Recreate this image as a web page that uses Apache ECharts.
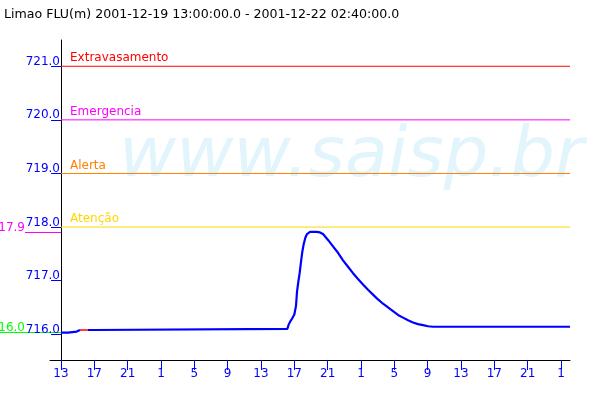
<!DOCTYPE html>
<html>
<head>
<meta charset="utf-8">
<script src="https://cdn.jsdelivr.net/npm/echarts@6/dist/echarts.min.js"></script>
<style>html,body{margin:0;padding:0;background:#fff}#c{width:600px;height:400px}</style>
</head>
<body>
<div id="c"></div>
<script>
// ---- data ----
const chartTitle = 'Limao FLU(m) 2001-12-19 13:00:00.0 - 2001-12-22 02:40:00.0';
const startHourOfDay = 13;           // first sample is 2001-12-19 13:00
const xTickHours = [0, 4, 8, 12, 16, 20, 24, 28, 32, 36, 40, 44, 48, 52, 56, 60];
const yTickValues = [716, 717, 718, 719, 720, 721];
const thresholdNames = ['Extravasamento', 'Emergencia', 'Alerta', 'Atenção'];
const thresholdValues = [721, 720, 719, 718];
const thresholdColors = ['#ff0000', '#ff00ff', '#ff8000', '#ffd700'];
// hours since start, level (m); null = missing sample
const levelHours = [0, 0.84, 0.84, 1.88, 1.88, 2.28, 2.76, 3.24, 3.9, 3.9, 27.16,
  27.32, 27.48, 27.72, 28.0, 28.2, 28.32, 28.48, 28.64, 28.8, 28.96, 29.12, 29.32, 29.52, 29.88,
  30.68, 31.08, 31.44, 32.04, 32.64, 33.24, 33.84, 34.44, 35.04, 35.64, 36.24, 36.84, 37.44,
  38.04, 38.64, 39.24, 39.84, 40.44, 41.04, 41.64, 42.24, 42.84, 43.44, 44.04, 44.64, 45.24, 61.08];
const levelValues = [716.03, 716.03, 716.05, 716.05, 716.08, 716.08, null, 716.08, 716.08, 716.10, 716.10,
  716.18, 716.23, 716.29, 716.37, 716.53, 716.79, 716.98, 717.14, 717.35, 717.54, 717.68, 717.80, 717.87, 717.91,
  717.91, 717.90, 717.87, 717.76, 717.64, 717.52, 717.38, 717.26, 717.14, 717.03, 716.93, 716.83, 716.74,
  716.65, 716.57, 716.50, 716.43, 716.36, 716.31, 716.26, 716.22, 716.19, 716.17, 716.15, 716.14, 716.14, 716.14];
const gapHours = [2.28, 3.24];
const gapValues = [716.08, 716.08];

// ---- chart ----
const FONT = 'DejaVu Sans';
const xMin = -1.32, xMax = 61.08;
const yMin = 715.52, yMax = 721.49;
const Y_OFFSET = -11;   // y axes sit on x = 0 (start time), 11px right of grid edge
const valid = levelValues.filter(v => v !== null);
const maxV = Math.max(...valid), minV = Math.min(...valid);

const levelData = levelHours.map((h, i) => [h, levelValues[i] === null ? '-' : levelValues[i]]);
const gapData = gapHours.map((h, i) => [h, gapValues[i]]);

function markerAxis(value, color, tickLen) {
  return {
    type: 'value', min: yMin, max: yMax, position: 'left', offset: Y_OFFSET,
    axisLine: { show: true, onZero: false, lineStyle: { color: 'rgba(0,0,0,0)', width: 0 } },
    axisTick: { show: true, length: tickLen, customValues: [value], lineStyle: { color: color, width: 1 } },
    axisLabel: { show: true, customValues: [value], formatter: v => v.toFixed(1), color: color,
      fontFamily: FONT, fontSize: 12, margin: 36, align: 'right', verticalAlign: 'bottom', lineHeight: 9 },
    splitLine: { show: false }
  };
}

const series = [];
thresholdNames.forEach((name, i) => {
  series.push({
    type: 'line', name: name, yAxisIndex: 0, silent: true, z: 3,
    symbol: 'circle', symbolSize: 0, showSymbol: true,
    lineStyle: { color: thresholdColors[i], width: 1 },
    itemStyle: { color: thresholdColors[i] },
    data: [
      { value: [0, thresholdValues[i]], label: { show: true, formatter: name, position: [9, -14],
        color: thresholdColors[i], fontFamily: FONT, fontSize: 12 } },
      [xMax, thresholdValues[i]]
    ]
  });
});
series.push({
  type: 'line', name: 'gap', yAxisIndex: 0, silent: true, z: 4, showSymbol: false,
  lineStyle: { color: '#ff0000', width: 1.5 }, data: gapData
});
series.push({
  type: 'line', name: 'nivel', yAxisIndex: 0, silent: true, z: 5, showSymbol: false,
  connectNulls: false,
  lineStyle: { color: '#0000ff', width: 2.2 }, data: levelData
});

const chart = echarts.init(document.getElementById('c'), null, { renderer: 'canvas' });
chart.setOption({
  animation: false,
  backgroundColor: '#ffffff',
  title: { text: chartTitle, left: -1, top: 3,
    textStyle: { fontFamily: FONT, fontSize: 12.6, fontWeight: 'normal', color: '#000' } },
  grid: { left: 50, right: 30, top: 40, bottom: 40, containLabel: false, outerBoundsMode: 'none' },
  graphic: [{
    type: 'text', left: 119, top: 123, z: -10, silent: true,
    style: { text: 'www.saisp.br', font: 'italic 70px "DejaVu Sans"', fill: '#e2f4fc' }
  }],
  xAxis: {
    type: 'value', min: xMin, max: xMax,
    axisLine: { show: true, onZero: false, lineStyle: { color: '#000', width: 1 } },
    axisTick: { show: true, length: 10, customValues: xTickHours, lineStyle: { color: '#0000ff' } },
    axisLabel: { show: true, customValues: xTickHours, formatter: v => String((startHourOfDay + v) % 24),
      color: '#0000ff', fontFamily: FONT, fontSize: 12, margin: 8 },
    splitLine: { show: false }
  },
  yAxis: [
    {
      type: 'value', min: yMin, max: yMax, position: 'left', offset: Y_OFFSET,
      axisLine: { show: true, onZero: false, lineStyle: { color: '#000', width: 1 } },
      axisTick: { show: true, length: 10, customValues: yTickValues, lineStyle: { color: '#0000ff' } },
      axisLabel: { show: true, customValues: yTickValues, formatter: v => v.toFixed(1), color: '#0000ff',
        fontFamily: FONT, fontSize: 12, margin: 1, align: 'right', verticalAlign: 'bottom', lineHeight: 9 },
      splitLine: { show: false }
    },
    markerAxis(maxV, '#ff00ff', 36),
    markerAxis(minV, '#00ff00', 61)
  ],
  series: series
});
</script>
</body>
</html>
